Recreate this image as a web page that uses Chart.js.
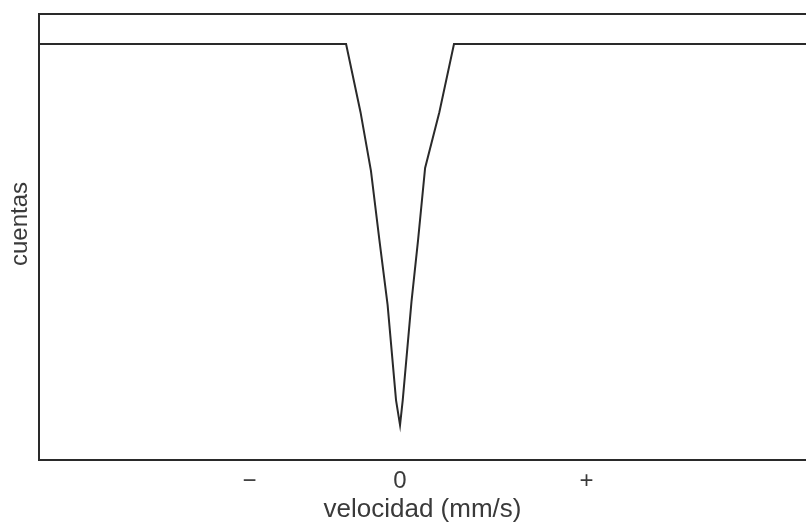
<!DOCTYPE html>
<html>
<head>
<meta charset="utf-8">
<title>Espectro Mössbauer</title>
<script src="https://cdn.jsdelivr.net/npm/chart.js@4/dist/chart.umd.min.js"></script>
<style>
  html, body { margin: 0; padding: 0; background: #ffffff; overflow: hidden; }
  canvas { display: block; }
</style>
</head>
<body>
<canvas id="espectro" width="806" height="523"></canvas>
<script>
// Velocidad de la fuente (mm/s) y cuentas registradas en cada punto
const velocidad = [-1.80, -0.269, -0.197, -0.145, -0.103, -0.062, -0.020, 0, 0.0135, 0.057, 0.090, 0.125, 0.196, 0.269, 2.03];
const cuentas   = [1000, 1000, 836, 695, 529, 373, 144, 84, 144, 380, 529, 702, 836, 1000, 1000];

// Marcas del eje de velocidad
const marcasVelocidad = [-0.75, 0, 0.93];
const etiquetasVelocidad = ['\u2212', '0', '+'];

const tituloX = 'velocidad (mm/s)';
const tituloY = 'cuentas';

const TINTA = '#2a2a2a';
const TEXTO = '#3a3a3a';
const FUENTE = '"Liberation Sans", Arial, sans-serif';

// Marco del área de trazado (izquierda, arriba y abajo) y títulos de los ejes
const marcoYTitulos = {
  id: 'marcoYTitulos',
  afterDraw(chart) {
    const { ctx, chartArea: a } = chart;
    ctx.save();
    ctx.strokeStyle = TINTA;
    ctx.lineWidth = 2;
    ctx.beginPath();
    ctx.moveTo(chart.width + 2, a.top);
    ctx.lineTo(a.left, a.top);
    ctx.lineTo(a.left, a.bottom);
    ctx.lineTo(chart.width + 2, a.bottom);
    ctx.stroke();

    ctx.fillStyle = TEXTO;
    ctx.font = '26px ' + FUENTE;
    ctx.textAlign = 'center';
    ctx.textBaseline = 'alphabetic';
    ctx.fillText(tituloX, (a.left + a.right) / 2, 517);

    ctx.translate(26.5, 224);
    ctx.rotate(-Math.PI / 2);
    ctx.font = '24px ' + FUENTE;
    ctx.fillText(tituloY, 0, 0);
    ctx.restore();
  }
};

new Chart(document.getElementById('espectro'), {
  type: 'line',
  data: {
    datasets: [{
      data: velocidad.map((v, i) => ({ x: v, y: cuentas[i] })),
      borderColor: TINTA,
      borderWidth: 2,
      pointRadius: 0,
      tension: 0,
      fill: false
    }]
  },
  options: {
    responsive: false,
    animation: false,
    events: [],
    layout: { padding: { left: 39, top: 14, right: 0, bottom: 0 } },
    plugins: { legend: { display: false }, tooltip: { enabled: false } },
    scales: {
      x: {
        type: 'linear',
        min: -1.80,
        max: 2.024,
        grid: { display: false, drawTicks: false },
        border: { display: false },
        afterFit(scale) { scale.height = 63; },
        afterBuildTicks(scale) {
          scale.ticks = marcasVelocidad.map(v => ({ value: v }));
        },
        ticks: {
          autoSkip: false,
          maxRotation: 0,
          padding: 7,
          color: TEXTO,
          font: { family: FUENTE, size: 24 },
          callback(value, index) { return etiquetasVelocidad[index]; }
        }
      },
      y: {
        display: false,
        min: 0,
        max: 1072
      }
    }
  },
  plugins: [marcoYTitulos]
});
</script>
</body>
</html>
